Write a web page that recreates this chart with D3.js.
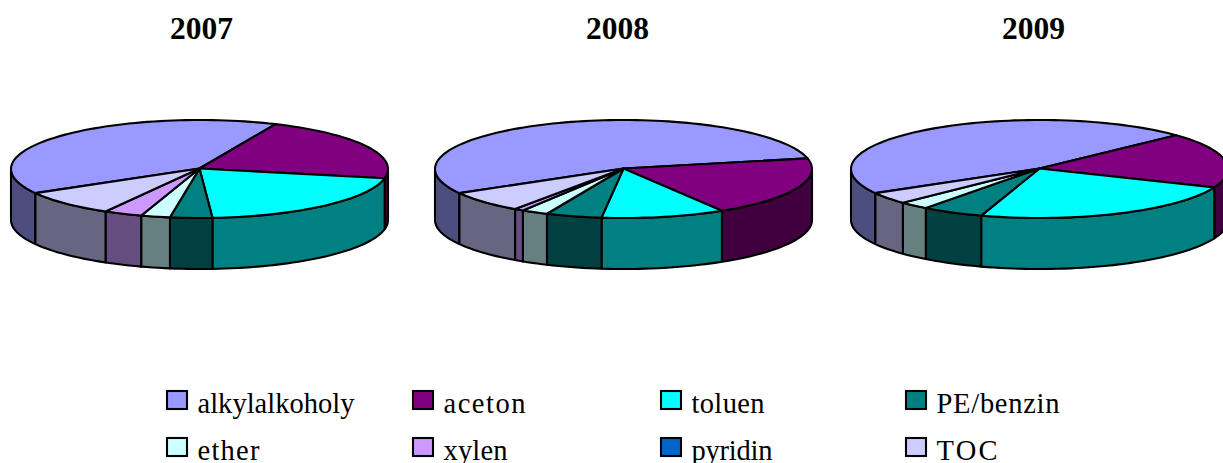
<!DOCTYPE html>
<html>
<head>
<meta charset="utf-8">
<script src="https://cdn.jsdelivr.net/npm/d3@7/dist/d3.min.js"></script>
<style>
html,body{margin:0;padding:0;background:#fff;overflow:hidden}
svg{display:block}
text{font-family:"Liberation Serif",serif;fill:#000}
</style>
</head>
<body>
<div id="chart"></div>
<script>
const categories = ["alkylalkoholy","aceton","toluen","PE/benzin","ether","xylen","pyridin","TOC"];
const years = ["2007","2008","2009"];
const values2007 = [39.8,21.4,20.9,3.6,2.5,3.3,0,8.5];
const values2008 = [54.7,19.75,10.6,4.8,2.3,0.8,0,7.05];
const values2009 = [46.1,18.2,23.9,5.3,2.6,0,0,3.9];
const topColors = ["#9999FF","#800080","#00FFFF","#008080","#CCFFFF","#CC99FF","#0066CC","#CCCCFF"];
const sideColors = ["#4D4D80","#400040","#008080","#004040","#668080","#664D80","#003366","#666680"];

const W = 1223, H = 463;
const series = [values2007, values2008, values2009];
const centers = [199.5, 623.5, 1039.5];
const titleX = [170, 586, 1002];
const cy = 169, rx = 188.5, ry = 49, depth = 51;
const startDeg = 240.5;
const strokeW = 2.1;
const rad = d => d * Math.PI / 180;

const svg = d3.select("#chart").append("svg").attr("width", W).attr("height", H);
const pie = d3.pie().sort(null).value(d => d).startAngle(rad(startDeg)).endAngle(rad(startDeg + 360));
const line = d3.line();

function arcPoints(a0, a1, px, py, dz) {
  const n = Math.max(2, Math.ceil((a1 - a0) / rad(2)));
  return d3.range(n + 1).map(i => {
    const a = a0 + (a1 - a0) * i / n;
    return [px(Math.sin(a)), py(-Math.cos(a)) + dz];
  });
}

series.forEach((vals, k) => {
  const px = d3.scaleLinear().domain([-1, 1]).range([centers[k] - rx, centers[k] + rx]);
  const py = d3.scaleLinear().domain([-1, 1]).range([cy - ry, cy + ry]);
  const g = svg.append("g");
  const arcs = pie(vals).map((d, i) => ({...d, i})).filter(d => d.value > 0);

  // visible front wall of each slice
  const windows = [[rad(90), rad(270)], [rad(450), rad(630)]];
  arcs.forEach(d => {
    windows.forEach(([w0, w1]) => {
      const a0 = Math.max(d.startAngle, w0), a1 = Math.min(d.endAngle, w1);
      if (a1 <= a0) return;
      const top = arcPoints(a0, a1, px, py, 0);
      const bot = arcPoints(a0, a1, px, py, depth).reverse();
      g.append("path")
        .attr("d", line(top.concat(bot)) + "Z")
        .attr("fill", sideColors[d.i])
        .attr("stroke", "#000").attr("stroke-width", strokeW).attr("stroke-linejoin", "round");
    });
  });

  // top face
  arcs.forEach(d => {
    const pts = [[px(0), py(0) - 0.5]].concat(arcPoints(d.startAngle, d.endAngle, px, py, 0));
    g.append("path")
      .attr("d", line(pts) + "Z")
      .attr("fill", topColors[d.i])
      .attr("stroke", "#000").attr("stroke-width", strokeW).attr("stroke-linejoin", "round");
  });

  svg.append("text")
    .attr("x", titleX[k]).attr("y", 39)
    .attr("font-weight", "bold").attr("font-size", 31.5)
    .attr("textLength", 63)
    .text(years[k]);
});

// legend
const swatchX = [167, 413, 661, 906];
const rowY = [391, 438];
const labelWidths = [157, 82, 73, 123, 62, 64, 81, 61];
categories.forEach((c, i) => {
  const col = i % 4, row = Math.floor(i / 4);
  svg.append("rect")
    .attr("x", swatchX[col]).attr("y", rowY[row]).attr("width", 20).attr("height", 18)
    .attr("fill", topColors[i]).attr("stroke", "#000").attr("stroke-width", strokeW);
  svg.append("text")
    .attr("x", swatchX[col] + 30.5).attr("y", rowY[row] + 21.5)
    .attr("font-size", 28.5)
    .attr("textLength", labelWidths[i])
    .text(c);
});
</script>
</body>
</html>
